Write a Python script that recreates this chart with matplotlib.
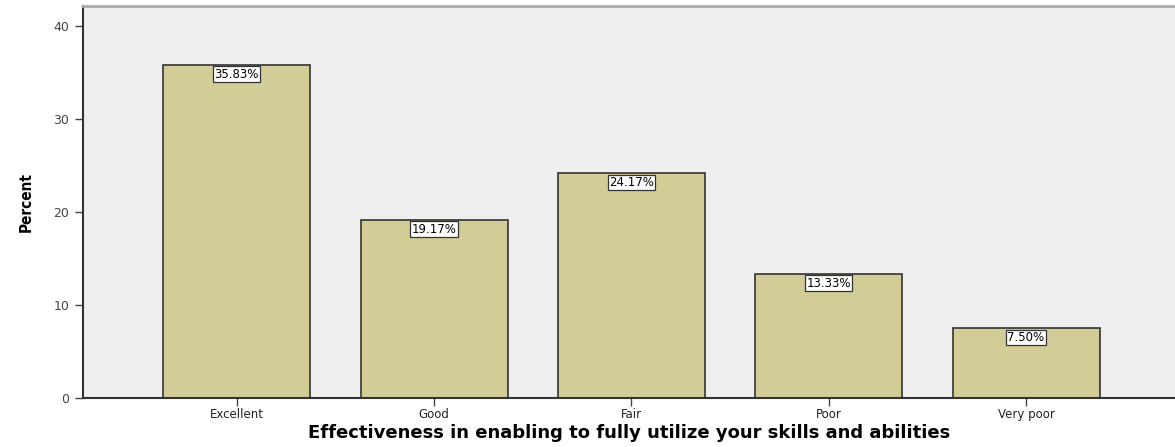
import matplotlib
matplotlib.use("Agg")
import matplotlib.pyplot as plt

# Data
categories = ['Excellent', 'Good', 'Fair', 'Poor', 'Very poor']
percents = [35.83, 19.17, 24.17, 13.33, 7.50]
yticks = [0, 10, 20, 30, 40]

fig = plt.figure(figsize=(11.75, 4.47), dpi=100)
ax = fig.add_axes([0.0706, 0.1096, 0.9294, 0.877])
ax.set_facecolor('#efefef')

x = range(len(categories))
ax.bar(x, percents, width=0.745, color='#d2cd96', edgecolor='#333333', linewidth=1.2, zorder=2)

for xi, p in zip(x, percents):
    ax.text(xi, p - 0.3, f"{p:.2f}%", ha='center', va='top', fontsize=8.5,
            family='DejaVu Sans', color='black', zorder=3,
            bbox=dict(boxstyle='square,pad=0.12', facecolor='white', edgecolor='#333333', linewidth=0.9))

ax.set_xlim(-0.78, 4.755)
ax.set_ylim(0, 42.15)
ax.set_xticks(list(x))
ax.set_xticklabels(categories, fontsize=8.5, color='#222222')
ax.set_yticks(yticks)
ax.set_yticklabels([str(t) for t in yticks], fontsize=9, color='#444444')
ax.tick_params(axis='both', length=6, width=1, color='#444444')
ax.tick_params(axis='x', pad=1.5)
ax.tick_params(axis='y', pad=4)

ax.spines['left'].set_color('#333333')
ax.spines['left'].set_linewidth(1.5)
ax.spines['bottom'].set_color('#333333')
ax.spines['bottom'].set_linewidth(1.5)
ax.spines['top'].set_color('#aaaaaa')
ax.spines['top'].set_linewidth(2)
ax.spines['right'].set_visible(False)

ax.set_ylabel('Percent', fontsize=11, fontweight='bold', fontstretch='condensed', labelpad=14)
ax.set_xlabel('Effectiveness in enabling to fully utilize your skills and abilities',
              fontsize=13, fontweight='bold', labelpad=2)

fig.savefig('out.png', dpi=100)
